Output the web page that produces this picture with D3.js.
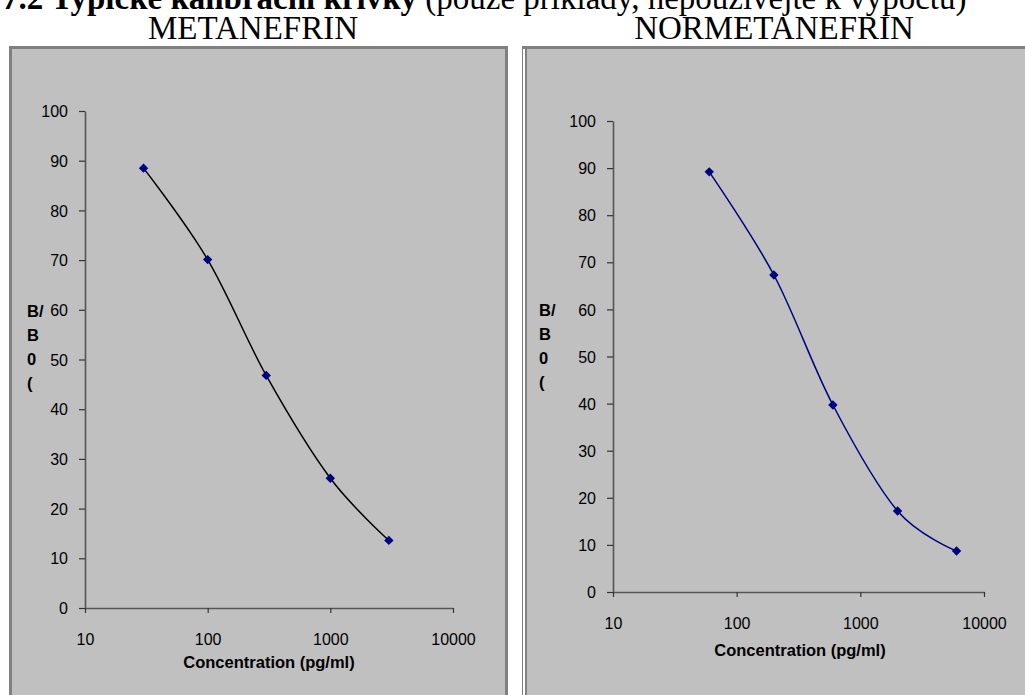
<!DOCTYPE html>
<html>
<head>
<meta charset="utf-8">
<script src="https://cdn.jsdelivr.net/npm/d3@7"></script>
<style>
  html, body { margin: 0; padding: 0; background: #fff; }
  svg { display: block; }
</style>
</head>
<body>
<svg id="chart" width="1025" height="695"></svg>
<script>
// ---- data ----
const metConc = [30, 100, 300, 1000, 3000];
const metB = [88.5, 70.1, 46.8, 26.1, 13.6];
const normConc = [60, 200, 600, 2000, 6000];
const normB = [89.2, 67.3, 39.7, 17.2, 8.7];
const xTickValues = [10, 100, 1000, 10000];
const yTickValues = [0, 10, 20, 30, 40, 50, 60, 70, 80, 90, 100];
const panelTitles = ["METANEFRIN", "NORMETANEFRIN"];
const xAxisTitle = "Concentration (pg/ml)";
const yAxisTitleLines = ["B/", "B", "0", "("];

const svg = d3.select("#chart");
const serif = "'Liberation Serif', 'Times New Roman', serif";
const sans = "'Liberation Sans', Arial, sans-serif";

// heading (cut off at top)
const head = svg.append("text").attr("x", 2).attr("y", 9)
  .attr("font-family", serif).attr("font-size", 33).attr("fill", "#000");
head.append("tspan").attr("font-weight", "bold").text("7.2 Typické kalibrační křivky");
head.append("tspan").text(" (pouze příklady, nepoužívejte k výpočtu)");

// panel titles
svg.append("text").attr("x", 253).attr("y", 39).attr("text-anchor", "middle")
  .attr("font-family", serif).attr("font-size", 33).text(panelTitles[0]);
svg.append("text").attr("x", 774).attr("y", 39).attr("text-anchor", "middle")
  .attr("font-family", serif).attr("font-size", 33).text(panelTitles[1]);

// panel frames
svg.append("rect").attr("x", 10.5).attr("y", 47.5).attr("width", 496).attr("height", 700)
  .attr("fill", "#c0c0c0").attr("stroke", "#808080").attr("stroke-width", 3);
svg.append("rect").attr("x", 522).attr("y", 46).attr("width", 600).attr("height", 700)
  .attr("fill", "#808080");
svg.append("rect").attr("x", 523).attr("y", 49).attr("width", 600).attr("height", 700)
  .attr("fill", "#fff");
svg.append("rect").attr("x", 525).attr("y", 49).attr("width", 600).attr("height", 700)
  .attr("fill", "#808080");
svg.append("rect").attr("x", 527).attr("y", 49).attr("width", 600).attr("height", 700)
  .attr("fill", "#c0c0c0");

function drawChart(cfg) {
  const x = d3.scaleLog().domain([10, 10000]).range([cfg.x0, cfg.x1]);
  const y = d3.scaleLinear().domain([0, 100]).range([cfg.y0, cfg.y1]);
  const g = svg.append("g");

  const yAx = g.append("g").attr("transform", `translate(${cfg.x0},0)`)
    .call(d3.axisLeft(y).tickValues(yTickValues).tickSize(6).tickSizeOuter(0)
      .tickPadding(11).tickFormat(d3.format("d")));
  const xAx = g.append("g").attr("transform", `translate(0,${cfg.y0})`)
    .call(d3.axisBottom(x).tickValues(xTickValues).tickSize(5).tickSizeOuter(0)
      .tickPadding(21).tickFormat(d3.format("d")));
  [yAx, xAx].forEach(a => {
    a.select(".domain").attr("stroke", "#555").attr("stroke-width", 1.6);
    a.selectAll(".tick line").attr("stroke", "#333").attr("stroke-width", 1.2);
    a.selectAll(".tick text").attr("font-family", sans).attr("font-size", 16).attr("fill", "#000");
  });
  yAx.selectAll(".tick text").attr("dy", "0.35em");

  g.append("text").attr("x", cfg.titleX).attr("y", cfg.titleY).attr("text-anchor", "middle")
    .attr("font-family", sans).attr("font-weight", "bold").attr("font-size", 16.5).text(xAxisTitle);

  yAxisTitleLines.forEach((t, i) => {
    g.append("text").attr("x", cfg.ylabX).attr("y", cfg.ylabY + i * 24)
      .attr("font-family", sans).attr("font-weight", "bold").attr("font-size", 16.5).text(t);
  });

  const pts = cfg.conc.map((c, i) => [x(c), y(cfg.vals[i])]);
  g.append("path").attr("d", d3.line().curve(d3.curveCardinal.tension(0))(pts))
    .attr("fill", "none").attr("stroke", cfg.lineColor).attr("stroke-width", 1.5);
  g.selectAll(".pt").data(pts).join("path")
    .attr("transform", d => `translate(${d[0]},${d[1]}) rotate(45)`)
    .attr("d", d3.symbol().type(d3.symbolSquare).size(44)())
    .attr("fill", "#000080");
}

drawChart({ x0: 85, x1: 453, y0: 608, y1: 111, conc: metConc, vals: metB,
  lineColor: "#000", titleX: 269, titleY: 668, ylabX: 27, ylabY: 317 });
drawChart({ x0: 613, x1: 984, y0: 592, y1: 121, conc: normConc, vals: normB,
  lineColor: "#000080", titleX: 800, titleY: 656, ylabX: 539, ylabY: 316 });
</script>
</body>
</html>
